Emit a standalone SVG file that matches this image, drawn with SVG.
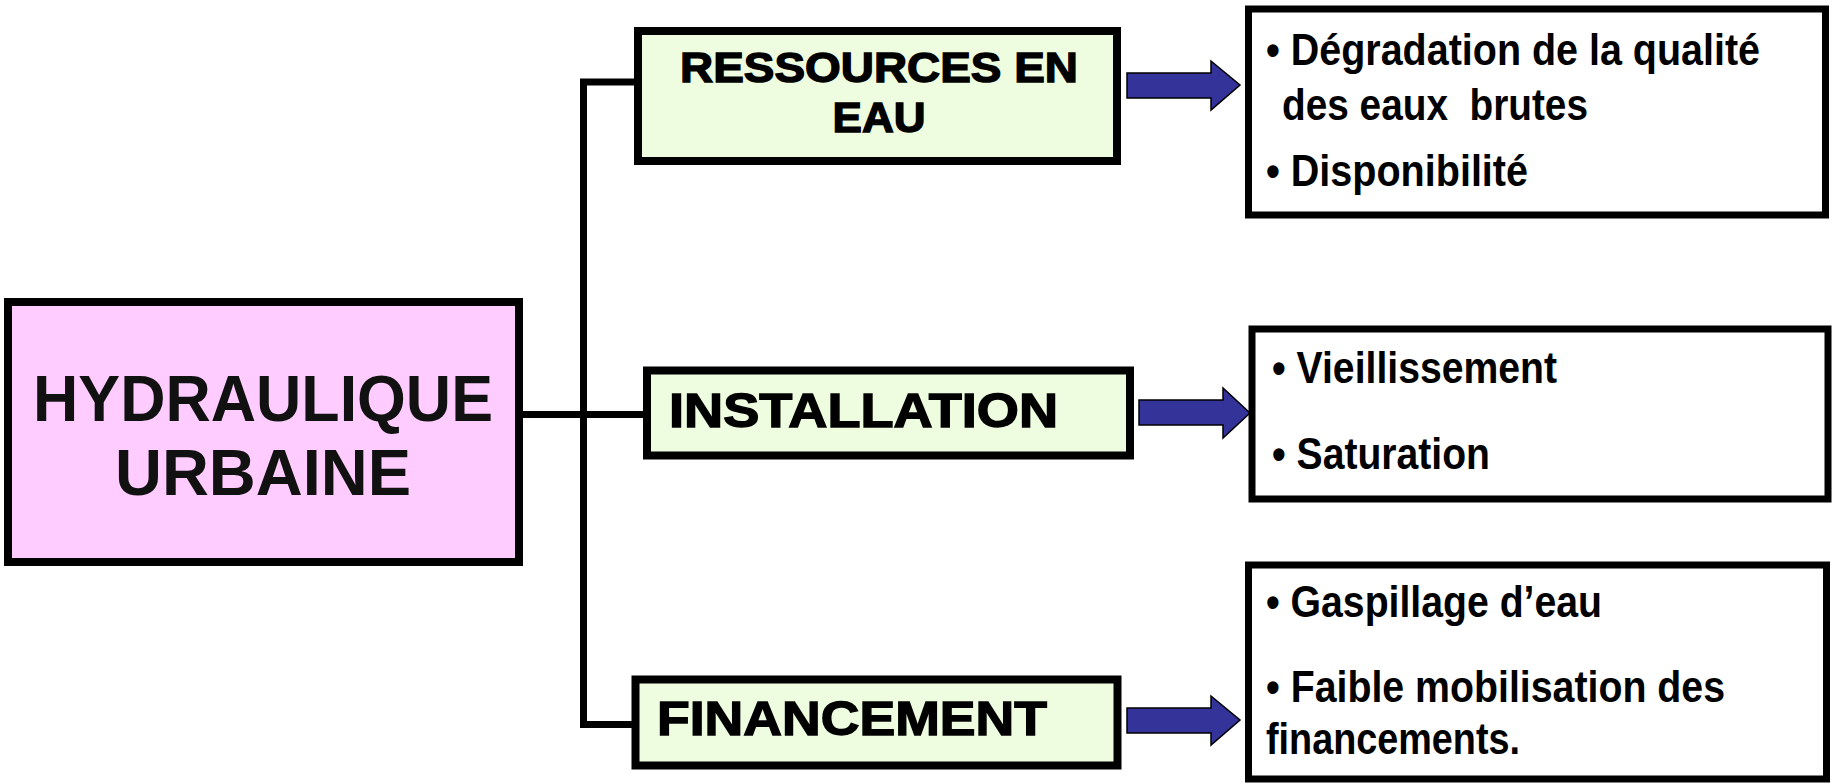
<svg xmlns="http://www.w3.org/2000/svg" width="1847" height="784" viewBox="0 0 1847 784">
<defs>
<style>
.box{stroke:#000;stroke-width:8}
.root{fill:#FFCCFF}
.cat{fill:#EEFDDF}
.res{fill:#FFFFFF;stroke-width:7}
.conn{stroke:#000;stroke-width:7;fill:none}
.arrow{fill:#333399;stroke:#000;stroke-width:1.5}
.t{font-family:"Liberation Sans",Arial,sans-serif;font-weight:bold;fill:#000}
.rt{fill:#111}
.ct{stroke:#000;stroke-width:1.4}
.bt{font-size:44px}
</style>
</defs>
<rect width="1847" height="784" fill="#FFFFFF"/>
<g id="connectors">
<path class="conn" d="M519,414.5 H647"/>
<path class="conn" d="M638,82 H583.5 V724.5 H636"/>
<polygon class="arrow" points="1127,73 1211,73 1211,61 1240,85 1211,110 1211,98 1127,98"/>
<polygon class="arrow" points="1139,400 1223,400 1223,388 1250,413 1223,438 1223,425 1139,425"/>
<polygon class="arrow" points="1127,708 1211,708 1211,696 1240,720 1211,745 1211,733 1127,733"/>
</g>
<g id="node-hydraulique">
<rect class="box root" x="8" y="302" width="511" height="260"/>
<text class="t rt" x="263" y="421" font-size="65" text-anchor="middle" textLength="460" lengthAdjust="spacingAndGlyphs">HYDRAULIQUE</text>
<text class="t rt" x="263" y="495" font-size="65" text-anchor="middle">URBAINE</text>
</g>
<g id="node-ressources">
<rect class="box cat" x="638" y="31" width="479" height="130"/>
<text class="t ct" x="879" y="82" font-size="43" text-anchor="middle" textLength="398" lengthAdjust="spacingAndGlyphs">RESSOURCES EN</text>
<text class="t ct" x="879" y="132" font-size="43" text-anchor="middle" textLength="93" lengthAdjust="spacingAndGlyphs">EAU</text>
</g>
<g id="node-installation">
<rect class="box cat" x="647" y="370.5" width="483" height="85"/>
<text class="t ct" x="669" y="427" font-size="49" textLength="389" lengthAdjust="spacingAndGlyphs">INSTALLATION</text>
</g>
<g id="node-financement">
<rect class="box cat" x="635.5" y="679.5" width="482" height="86"/>
<text class="t ct" x="657" y="735" font-size="49" textLength="390" lengthAdjust="spacingAndGlyphs">FINANCEMENT</text>
</g>
<g id="node-res1">
<rect class="box res" x="1248.5" y="9" width="577" height="206"/>
<text class="t bt" x="1266" y="65" textLength="494" lengthAdjust="spacingAndGlyphs">• Dégradation de la qualité</text>
<text class="t bt" x="1282" y="120" textLength="306" lengthAdjust="spacingAndGlyphs" xml:space="preserve">des eaux  brutes</text>
<text class="t bt" x="1266" y="186" textLength="262" lengthAdjust="spacingAndGlyphs">• Disponibilité</text>
</g>
<g id="node-res2">
<rect class="box res" x="1252" y="329" width="576" height="170"/>
<text class="t bt" x="1272" y="383" textLength="285" lengthAdjust="spacingAndGlyphs">• Vieillissement</text>
<text class="t bt" x="1272" y="469" textLength="218" lengthAdjust="spacingAndGlyphs">• Saturation</text>
</g>
<g id="node-res3">
<rect class="box res" x="1248.5" y="565" width="578" height="214"/>
<text class="t bt" x="1266" y="617" textLength="336" lengthAdjust="spacingAndGlyphs">• Gaspillage d’eau</text>
<text class="t bt" x="1266" y="702" textLength="459" lengthAdjust="spacingAndGlyphs">• Faible mobilisation des</text>
<text class="t bt" x="1266" y="754" textLength="254" lengthAdjust="spacingAndGlyphs">financements.</text>
</g>
</svg>
